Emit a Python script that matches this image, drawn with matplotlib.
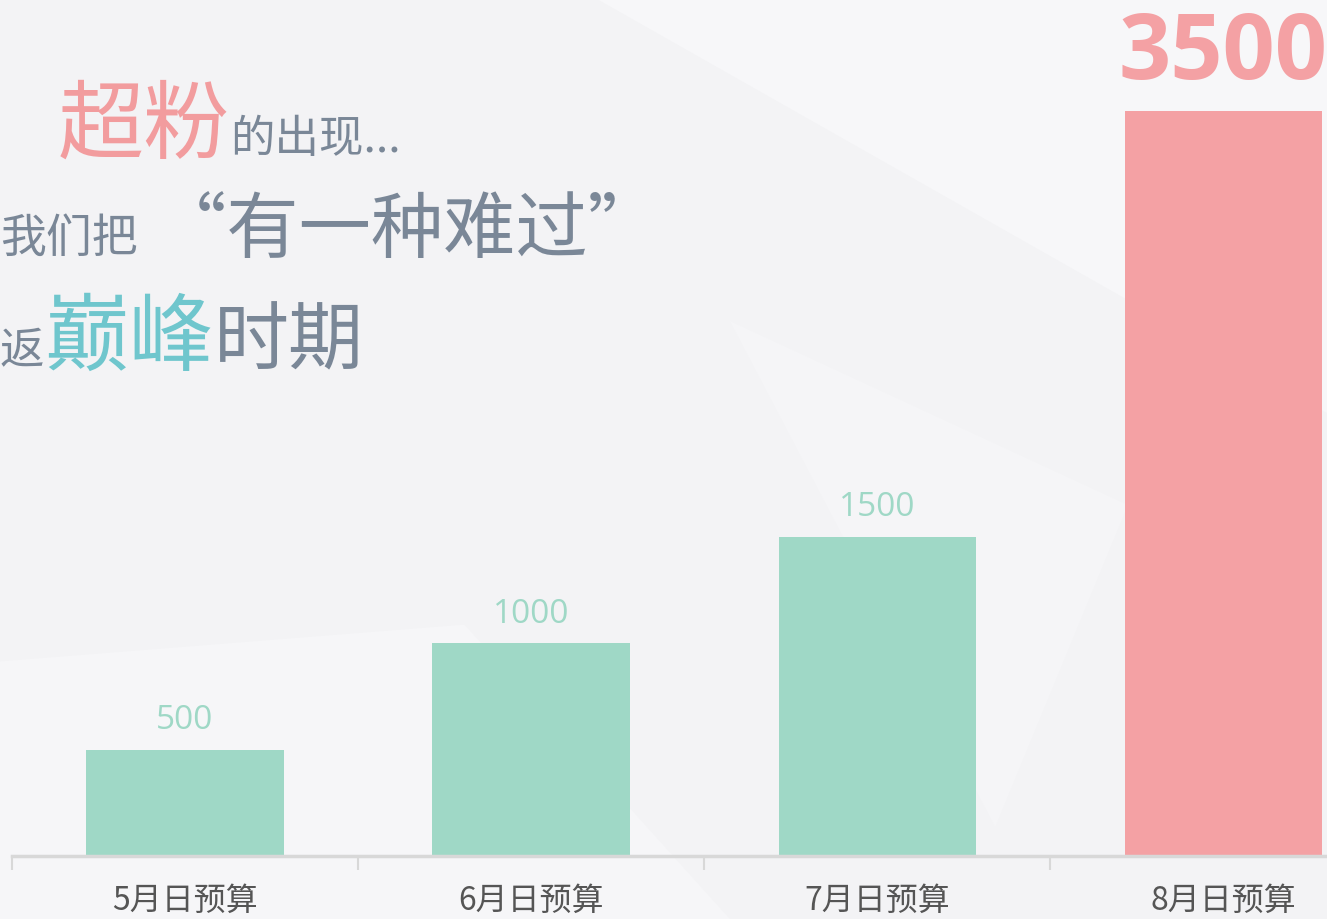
import matplotlib
matplotlib.use('Agg')
import matplotlib.pyplot as plt
from matplotlib.patches import Polygon

plt.rcParams['font.family'] = ['Noto Sans CJK SC', 'DejaVu Sans']

# data
months = ['5月日预算', '6月日预算', '7月日预算', '8月日预算']
budget = [500, 1000, 1500, 3500]

teal = '#9fd8c6'
pink = '#f4a1a4'
grey_txt = '#7a8797'

W, H = 1327, 920
fig = plt.figure(figsize=(W / 100, H / 100), dpi=100)
fig.patch.set_facecolor('#f3f3f5')

# faint background facets on their own axes behind everything
bg = fig.add_axes([0, 0, 1, 1], zorder=-5)
bg.set_xlim(0, 1)
bg.set_ylim(0, 1)
bg.axis('off')
for pts, c in [([(0.45, 1.0), (1.0, 1.0), (1.0, 0.55)], '#f7f7f9'),
               ([(0.0, 0.0), (0.55, 0.0), (0.35, 0.32), (0.0, 0.28)], '#f6f6f8'),
               ([(0.55, 0.65), (0.85, 0.45), (0.75, 0.1)], '#f5f5f7')]:
    bg.add_patch(Polygon(pts, closed=True, facecolor=c, edgecolor='none'))

ax = fig.add_axes([12 / W, 63 / H, 1 - 12 / W, 857 / H])
ax.patch.set_alpha(0)

x = list(range(len(months)))
colors = [teal, teal, teal, pink]
ax.bar(x, budget, width=0.57, color=colors, zorder=2)

ax.set_xlim(-0.5, 3.3)
ax.set_ylim(0, 4025)

for s in ['top', 'right', 'left']:
    ax.spines[s].set_visible(False)
ax.spines['bottom'].set_color('#d8d8d8')
ax.spines['bottom'].set_linewidth(2.5)
ax.set_yticks([])
ax.set_xticks(x)
ax.set_xticklabels(months, fontsize=23, color='#555555')
ax.tick_params(axis='x', length=0, pad=20)
ax.set_xticks([-0.5, 0.5, 1.5, 2.5], minor=True)
ax.tick_params(axis='x', which='minor', length=10, width=1.5, color='#d8d8d8')

for i, v in enumerate(budget[:-1]):
    ax.text(i, v + 100, str(v), ha='center', va='baseline', fontsize=24,
            color=teal, family=['Open Sans', 'DejaVu Sans'])
ax.text(3, budget[-1] + 155, str(budget[-1]), ha='center', va='baseline',
        fontsize=66, fontweight='bold', color=pink,
        family=['Open Sans', 'DejaVu Sans'], clip_on=False)

# headline text, pieces chained left to right
renderer = fig.canvas.get_renderer()


def line(x0, y_top, pieces):
    xf = x0 / W
    for txt, size, col in pieces:
        t = fig.text(xf, 1 - y_top / H, txt, fontsize=size, color=col,
                     va='baseline', ha='left')
        bb = t.get_window_extent(renderer)
        xf = bb.x1 / W


line(58, 152, [('超粉', 62, '#f29c9e'), ('的出现...', 32, grey_txt)])
line(0, 252, [('我们把', 33, grey_txt), (' “有一种难过”', 52, grey_txt)])
line(0, 364, [('返', 32, grey_txt), ('巅峰', 61, '#6fc6cd'), ('时期', 54, grey_txt)])

fig.savefig('out.png', dpi=100, facecolor=fig.get_facecolor())
